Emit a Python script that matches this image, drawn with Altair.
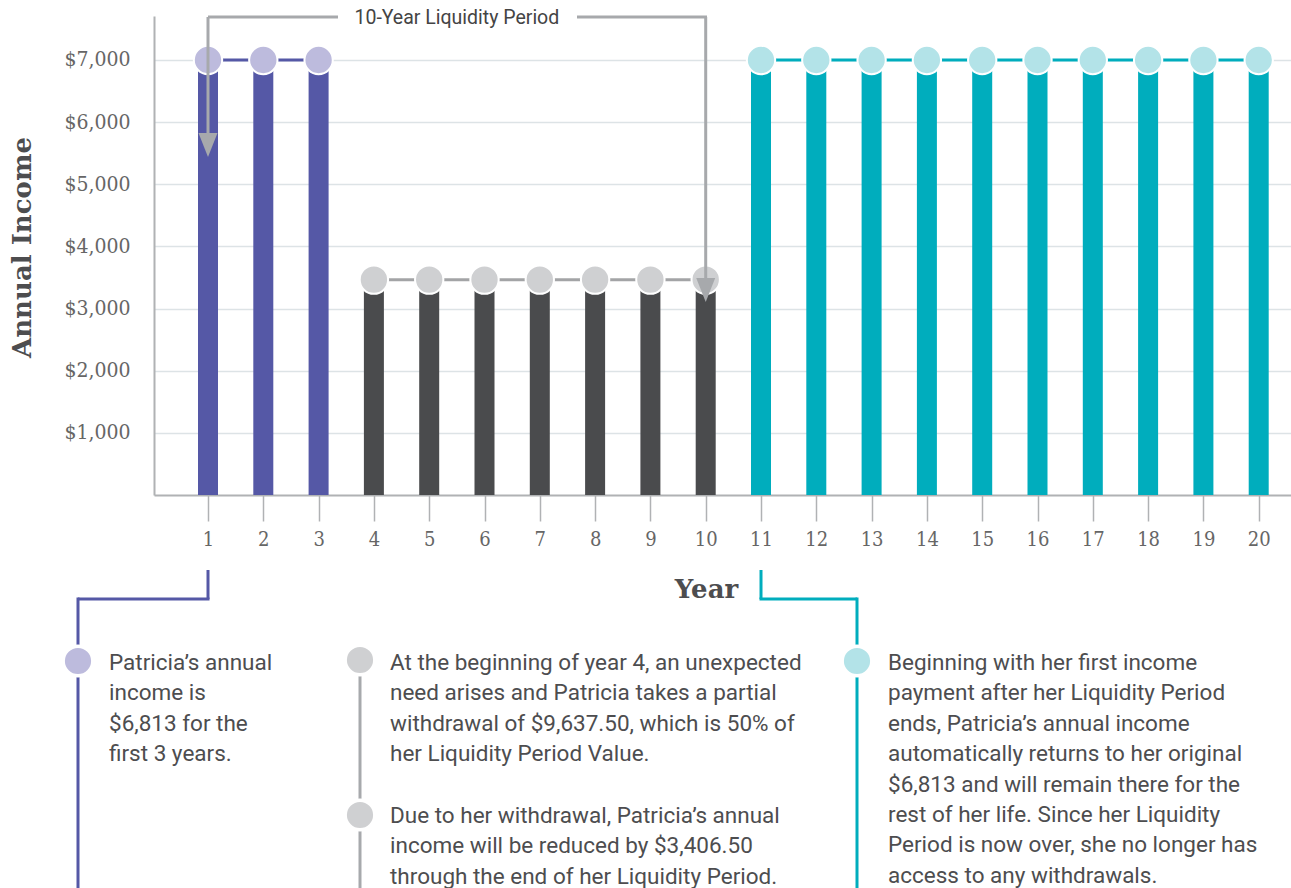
import altair as alt
import pandas as pd

# ---------------- data ----------------
years = [1, 2, 3, 4, 5, 6, 7, 8, 9, 10, 11, 12, 13, 14, 15, 16, 17, 18, 19, 20]
income = [7000, 7000, 7000, 3465, 3465, 3465, 3465, 3465, 3465, 3465,
          7000, 7000, 7000, 7000, 7000, 7000, 7000, 7000, 7000, 7000]
phase = ["initial", "initial", "initial",
         "reduced", "reduced", "reduced", "reduced", "reduced", "reduced", "reduced",
         "restored", "restored", "restored", "restored", "restored",
         "restored", "restored", "restored", "restored", "restored"]
phases = ["initial", "reduced", "restored"]
y_ticks = [1000, 2000, 3000, 4000, 5000, 6000, 7000]

period_label = "10-Year Liquidity Period"
note_initial = ["Patricia\u2019s annual", "income is", "$6,813 for the", "first 3 years."]
note_withdraw = ["At the beginning of year 4, an unexpected",
                 "need arises and Patricia takes a partial",
                 "withdrawal of $9,637.50, which is 50% of",
                 "her Liquidity Period Value."]
note_reduced = ["Due to her withdrawal, Patricia\u2019s annual",
                "income will be reduced by $3,406.50",
                "through the end of her Liquidity Period."]
note_restored = ["Beginning with her first income",
                 "payment after her Liquidity Period",
                 "ends, Patricia\u2019s annual income",
                 "automatically returns to her original",
                 "$6,813 and will remain there for the",
                 "rest of her life. Since her Liquidity",
                 "Period is now over, she no longer has",
                 "access to any withdrawals."]

df = pd.DataFrame({"year": years, "income": income, "phase": phase})

# ---------------- styles ----------------
bar_colors = ["#5558a6", "#4a4b4d", "#00adbd"]
dot_colors = ["#bdbbdd", "#cfd0d2", "#b3e3e8"]
line_colors = ["#5558a6", "#a3a4a6", "#00adbd"]
PURPLE, GRAY_LINE, TEAL = "#5558a6", "#a7a9ac", "#00adbd"
TEXT = "#4d4d4f"
SLAB = "DejaVu Serif Condensed, DejaVu Serif"

W, H = 1137, 479
L, T = 154, 16  # plot origin in page pixels

xs = alt.Scale(domain=[0.0235, 20.584], nice=False, zero=False, padding=0)
ys = alt.Scale(domain=[0, 7708], nice=False, padding=0)

x_enc = alt.X("year:Q", scale=xs, axis=alt.Axis(
    values=years, format="d", grid=False, tickSize=26, tickColor="#b0b2b4", tickWidth=1.5,
    domainColor="#b0b2b4", domainWidth=2, labelFont=SLAB, labelFontSize=20,
    labelColor="#666666", labelPadding=8, labelFlush=False, labelOverlap=False,
    title="Year", titleFont="DejaVu Serif", titleFontWeight="bold", titleFontSize=26,
    titleColor=TEXT, titleX=552, titleY=94, titleAlign="center", titleBaseline="middle"))
y_enc = alt.Y("income:Q", scale=ys, axis=alt.Axis(
    values=y_ticks, format="$,.0f", grid=True, gridColor="#dde3e6", gridWidth=1.5,
    ticks=False, domainColor="#b0b2b4", domainWidth=2, labelFont=SLAB, labelFontSize=21,
    labelColor="#666666", labelPadding=24,
    title="Annual Income", titleFont="DejaVu Serif", titleFontWeight="bold", titleFontSize=26,
    titleColor=TEXT, titleX=22 - L, titleY=247 - T, titleAngle=270,
    titleAlign="center", titleBaseline="middle"))

base = alt.Chart(df)

bars = base.mark_bar(size=20).encode(
    x=x_enc, y=y_enc,
    color=alt.Color("phase:N", scale=alt.Scale(domain=phases, range=bar_colors), legend=None))

lines = base.mark_line(strokeWidth=3).encode(
    x=alt.X("year:Q", scale=xs), y=alt.Y("income:Q", scale=ys),
    color=alt.Color("phase:N", scale=alt.Scale(domain=phases, range=line_colors), legend=None))

dots = base.mark_circle(size=804, opacity=1, stroke="white", strokeWidth=2).encode(
    x=alt.X("year:Q", scale=xs), y=alt.Y("income:Q", scale=ys),
    fill=alt.Fill("phase:N", scale=alt.Scale(domain=phases, range=dot_colors), legend=None))

one = pd.DataFrame({"k": [0]})


def seg(x1, y1, x2, y2, color, width=3):
    return alt.Chart(one).mark_rule(color=color, strokeWidth=width, strokeCap="butt").encode(
        x=alt.value(x1 - L), x2=alt.value(x2 - L), y=alt.value(y1 - T), y2=alt.value(y2 - T))


def vseg_at_year(yr, y1, y2, color, width=3):
    return alt.Chart(pd.DataFrame({"year": [yr]})).mark_rule(
        color=color, strokeWidth=width, strokeCap="butt").encode(
        x=alt.X("year:Q", scale=xs), y=alt.value(y1 - T), y2=alt.value(y2 - T))


ARROW = "M-1,-1.26L1,-1.26L0,1.26Z"


def arrow_at_year(yr, yc):
    return alt.Chart(pd.DataFrame({"year": [yr]})).mark_point(
        shape=ARROW, filled=True, color=GRAY_LINE, size=361, opacity=1, strokeWidth=0).encode(
        x=alt.X("year:Q", scale=xs), y=alt.value(yc - T))


def bullet(x, y, fill):
    return alt.Chart(one).mark_circle(size=881, opacity=1, fill=fill, stroke="white",
                                      strokeWidth=3.5).encode(
        x=alt.value(x - L), y=alt.value(y - T))


def note(x, y, lines_):
    return alt.Chart(one).mark_text(
        text=lines_, align="left", baseline="alphabetic", font="Roboto", fontSize=22.5,
        lineHeight=30.4, color=TEXT).encode(x=alt.value(x - L), y=alt.value(y - T))


# top bracket
top = [
    vseg_at_year(1, 17, 140, GRAY_LINE),
    seg(208, 17, 338, 17, GRAY_LINE),
    seg(577, 17, 707, 17, GRAY_LINE),
    vseg_at_year(10, 17, 285, GRAY_LINE),
    arrow_at_year(1, 145),
    arrow_at_year(10, 290),
    alt.Chart(pd.DataFrame({"year": [5.5]})).mark_text(
        text=period_label, font="Roboto", fontSize=19.5, color="#444444",
        align="center", baseline="middle").encode(
        x=alt.X("year:Q", scale=xs), y=alt.value(18 - T)),
]

# bottom connectors
bottom = [
    vseg_at_year(1, 570, 599, PURPLE),
    seg(78, 599, 209.5, 599, PURPLE),
    seg(78, 597.5, 78, 888, PURPLE),
    vseg_at_year(11, 570, 599, TEAL),
    seg(759.5, 599, 857, 599, TEAL),
    seg(857, 597.5, 857, 888, TEAL),
    seg(360, 660, 360, 888, GRAY_LINE),
    bullet(78, 661, dot_colors[0]),
    bullet(360, 660, dot_colors[1]),
    bullet(360, 815, dot_colors[1]),
    bullet(857, 661, dot_colors[2]),
    note(109, 670, note_initial),
    note(390, 670, note_withdraw),
    note(390, 823, note_reduced),
    note(888, 670, note_restored),
]

chart = alt.layer(bars, lines, dots, *top, *bottom).resolve_scale(
    color="independent", fill="independent"
).properties(
    width=W, height=H,
    padding={"left": L, "top": T, "right": 0, "bottom": 888 - T - H},
    autosize=alt.AutoSizeParams(type="none"),
    background="white",
).configure_view(stroke=None)

chart.save("out.html", embed_options={"renderer": "svg", "actions": False})
